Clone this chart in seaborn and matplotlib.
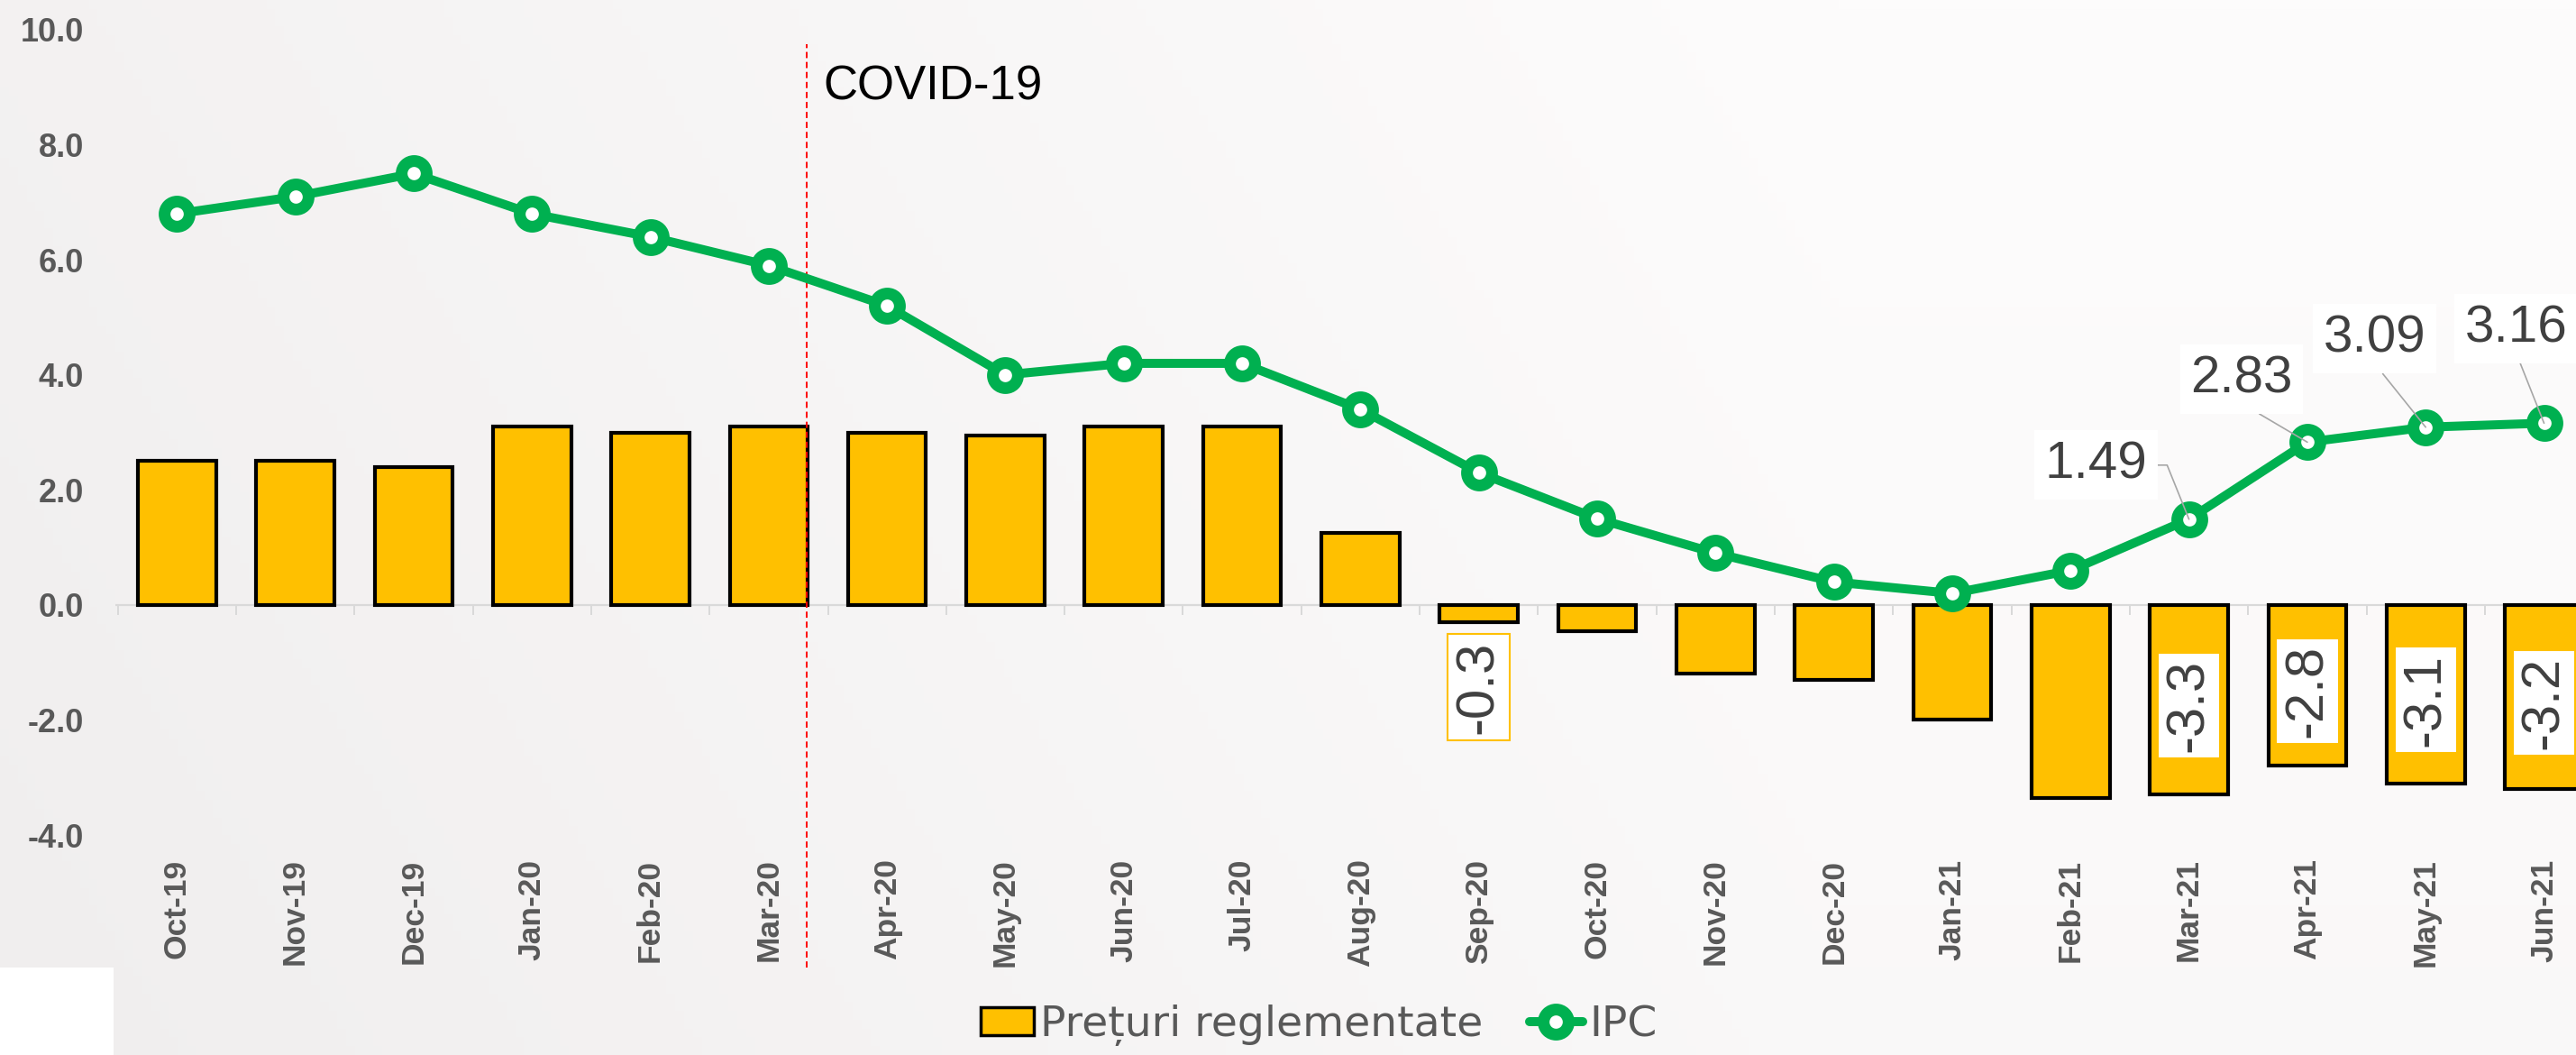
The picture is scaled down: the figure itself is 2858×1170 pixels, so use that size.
import numpy as np
import pandas as pd
import matplotlib
matplotlib.use("Agg")
import matplotlib.pyplot as plt
import seaborn as sns
from matplotlib.patches import Patch, Rectangle
from matplotlib.lines import Line2D

# ---------------- data ----------------
months = ["Oct-19", "Nov-19", "Dec-19", "Jan-20", "Feb-20", "Mar-20", "Apr-20",
          "May-20", "Jun-20", "Jul-20", "Aug-20", "Sep-20", "Oct-20", "Nov-20",
          "Dec-20", "Jan-21", "Feb-21", "Mar-21", "Apr-21", "May-21", "Jun-21"]
regulated = [2.5, 2.5, 2.4, 3.1, 3.0, 3.1, 3.0, 2.95, 3.1, 3.1, 1.25, -0.3, -0.45,
             -1.2, -1.3, -2.0, -3.35, -3.3, -2.8, -3.1, -3.2]
ipc = [6.8, 7.1, 7.5, 6.8, 6.4, 5.9, 5.2, 4.0, 4.2, 4.2, 3.4, 2.3, 1.5, 0.9,
       0.4, 0.2, 0.6, 1.49, 2.83, 3.09, 3.16]
yticks = [-4, -2, 0, 2, 4, 6, 8, 10]
series_names = ["Prețuri reglementate", "IPC"]
bar_labelled = ["Sep-20", "Mar-21", "Apr-21", "May-21", "Jun-21"]
ipc_labelled = ["Mar-21", "Apr-21", "May-21", "Jun-21"]
event_label = "COVID-19"
event_after = "Mar-20"

# ---------------- style ----------------
sns.set_style("white")
plt.rcParams["font.family"] = ["Liberation Sans", "DejaVu Sans"]

YELLOW = "#FFC000"
GREEN = "#00B050"
GREY_TXT = "#595959"
DARK_TXT = "#404040"

fig = plt.figure(figsize=(28.58, 11.70), dpi=100)

# soft gradient background
bg = fig.add_axes([0, 0, 1, 1], zorder=-10)
H, W = 120, 290
gy, gx = np.mgrid[0:1:H * 1j, 0:1:W * 1j]
d = np.clip(1.0 - 1.4 * gx, 0, 1) * 0.75 + gy * 0.25
light = np.array([253, 252, 252]) / 255
dark = np.array([240, 238, 238]) / 255
img = light + d[..., None] * (dark - light)
bg.imshow(img, aspect="auto", extent=[0, 1, 0, 1], origin="upper")
bg.set_axis_off()
fig.add_artist(Rectangle((0, 0), 126 / 2858, 97 / 1170, transform=fig.transFigure,
                         fc="white", ec="none", zorder=-5))

ax = fig.add_axes([128 / 2858, 1 - 926 / 1170, 1 - 128 / 2858, (926 - 33) / 1170])
ax.patch.set_alpha(0)

n = len(months)
df = pd.DataFrame({"month": months, "regulated": regulated, "ipc": ipc,
                   "pos": np.arange(n)})

# zero line and boundary ticks
ax.axhline(0, color="#D9D9D9", lw=1.6, zorder=1)
ax.vlines(np.arange(n + 1) - 0.5, -0.17, 0, color="#D9D9D9", lw=1.4, zorder=1)

sns.barplot(data=df, x="month", y="regulated", order=months, color=YELLOW,
            saturation=1, width=0.66, edgecolor="black", linewidth=3,
            errorbar=None, ax=ax, zorder=2)

sns.lineplot(data=df, x="pos", y="ipc", color=GREEN, lw=7.2, marker="o",
             markersize=20, markerfacecolor="white", markeredgecolor=GREEN,
             markeredgewidth=9.4, ax=ax, zorder=4, legend=False)

ax.set_xlim(-0.52, 20.27)
ax.set_ylim(-4, 10)
ax.set_xlabel("")
ax.set_ylabel("")
for s in ax.spines.values():
    s.set_visible(False)

ax.set_yticks(yticks)
ax.set_yticklabels([f"{t:.1f}" for t in yticks], fontsize=26, fontweight="bold",
                   color=GREY_TXT, family="Liberation Sans")
ax.set_xticks(np.arange(n))
ax.set_xticklabels(months, rotation=90, fontsize=25.5, fontweight="bold",
                   color=GREY_TXT, family="Liberation Sans")
ax.tick_params(axis="y", length=0, pad=25)
ax.tick_params(axis="x", length=0, pad=19)
ax.grid(False)

# COVID-19 marker line
ex = months.index(event_after) + 0.32
ax.vlines(ex, -6.3, 9.75, colors="#FF0000", linestyles=(0, (3.5, 2.2)), lw=1.4,
          clip_on=False, zorder=3)
ax.text(ex + 0.14, 8.79, event_label, fontsize=38, color="black",
        family="Liberation Sans", va="baseline", ha="left")

# bar value labels
for m in bar_labelled:
    i = months.index(m)
    v = regulated[i]
    y = v - 1.13 if abs(v) < 1 else v / 2 - 0.1
    ax.text(i, y, f"{v:.1f}", rotation=90, ha="center", va="center", fontsize=43,
            family="Liberation Sans", color=DARK_TXT, zorder=6,
            bbox=dict(boxstyle="square,pad=0.12", fc="white", ec=YELLOW, lw=1.5))

# IPC value labels
ipc_offsets = {"Mar-21": (-103, 60), "Apr-21": (-73, 70),
               "May-21": (-57, 98), "Jun-21": (-31, 105)}
for m in ipc_labelled:
    i = months.index(m)
    v = ipc[i]
    dx, dy = ipc_offsets[m]
    if m == "Mar-21":
        rp, cs = (1.0, 0.5), "angle,angleA=0,angleB=112,rad=0"
    else:
        rp, cs = (0.5, 0.0), "arc3"
    ax.annotate(f"{v:.2f}", xy=(i, v), xytext=(dx, dy), textcoords="offset pixels",
                ha="center", va="center", fontsize=42, family="Liberation Sans",
                color=DARK_TXT, zorder=6,
                bbox=dict(boxstyle="square,pad=0.2", fc="white", ec="none"),
                arrowprops=dict(arrowstyle="-", color="#A6A6A6", lw=1.2,
                                shrinkA=0, shrinkB=0, relpos=rp,
                                connectionstyle=cs))

# legend
handles = [Patch(fc=YELLOW, ec="black", lw=2.5),
           Line2D([], [], color=GREEN, lw=7.2, marker="o", ms=20, mfc="white",
                  mec=GREEN, mew=9.4)]
fig.legend(handles, series_names, loc="center",
           bbox_to_anchor=(1463 / 2858, 1 - 1137 / 1170), ncol=2, frameon=False,
           prop=dict(family="DejaVu Sans", size=34), labelcolor=GREY_TXT,
           handlelength=1.25, handleheight=0.62, handletextpad=0.15,
           columnspacing=1.1)

fig.savefig("out.png", dpi=100)
